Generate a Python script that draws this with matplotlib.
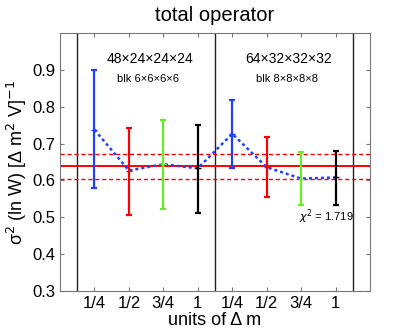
import matplotlib
matplotlib.use("Agg")
from matplotlib import pyplot as plt
import numpy as np

labels = ["1/4", "1/2", "3/4", "1", "1/4", "1/2", "3/4", "1"]
center = [0.738, 0.627, 0.644, 0.633, 0.727, 0.636, 0.605, 0.608]
upper = [0.900, 0.743, 0.765, 0.752, 0.818, 0.719, 0.676, 0.681]
lower = [0.579, 0.506, 0.523, 0.512, 0.635, 0.554, 0.532, 0.534]
colors = ["#2040ff", "#ff0000", "#66ee22", "#000000"] * 2

fit_value = 0.639
fit_hi = 0.673
fit_lo = 0.605

plt.rcParams['font.family'] = ['Liberation Sans', 'DejaVu Sans']

fig = plt.figure(figsize=(4.09, 3.32), dpi=100)
ax = fig.add_axes([0.1467, 0.1244, 0.758, 0.775])

x = np.arange(1, len(center) + 1)
ax.plot(x, center, ls=(0, (1.2, 1.2)), color="#2040ff", lw=1.8, zorder=3)

for i in range(len(x)):
    ax.errorbar(x[i], center[i],
                yerr=[[center[i] - lower[i]], [upper[i] - center[i]]],
                color=colors[i], lw=1.6, capsize=2.5, capthick=1.6,
                marker='_', ms=5, zorder=4)

ax.axhline(fit_value, color="red", lw=1.4, zorder=2)
ax.axhline(fit_hi, color="red", lw=1.0, ls="--", dashes=(3, 2), zorder=2)
ax.axhline(fit_lo, color="red", lw=1.0, ls="--", dashes=(3, 2), zorder=2)

for xv in [0.5, 4.5, 8.5]:
    ax.axvline(xv, color="#222222", lw=1.0, zorder=1)

ax.text(2.6, 0.93, "48×24×24×24", ha="center", va="center", fontsize=10)
ax.text(2.55, 0.877, "blk 6×6×6×6", ha="center", va="center", fontsize=8)
ax.text(6.65, 0.93, "64×32×32×32", ha="center", va="center", fontsize=10)
ax.text(6.6, 0.877, "blk 8×8×8×8", ha="center", va="center", fontsize=8)
ax.text(6.95, 0.50, r"$\chi^2$ = 1.719", ha="left", va="center", fontsize=8)

ax.set_xlim(0, 9)
ax.set_ylim(0.3, 1.0)
ax.set_xticks(x)
ax.set_xticklabels(labels)
ax.set_yticks([0.3, 0.4, 0.5, 0.6, 0.7, 0.8, 0.9])
ax.tick_params(direction="in", top=True, right=True, labelsize=12,
               length=3, color="#777777")
for s in ax.spines.values():
    s.set_color("#777777")

ax.set_title("total operator", fontsize=14.5, pad=9)
ax.set_xlabel("units of Δ m", fontsize=13, labelpad=1)
ax.set_ylabel(r"σ$^2$ (ln W) [Δ m$^2$ V]$^{-1}$", fontsize=13, labelpad=2)

fig.savefig("out.png", dpi=100)
